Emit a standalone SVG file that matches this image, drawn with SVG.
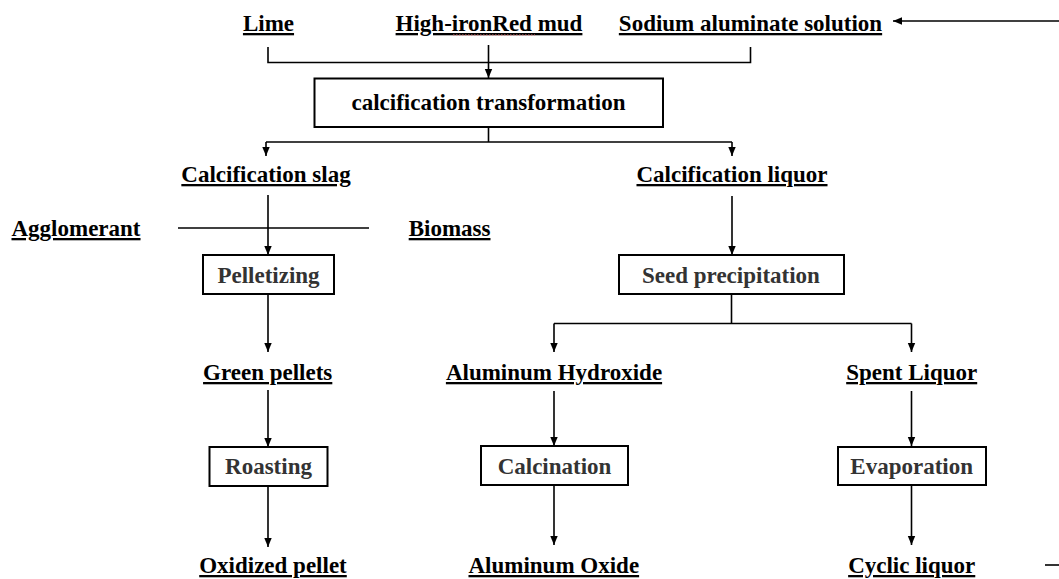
<svg xmlns="http://www.w3.org/2000/svg" width="1059" height="579" viewBox="0 0 1059 579">
  <style>
    .t { font-family: "Liberation Serif", "Times New Roman", serif; font-weight: bold; font-size: 23px; text-anchor: middle; fill: #000; }
    .u { text-decoration: underline; }
    .p { fill: #333; }
    .box { fill: #fff; stroke: #000; stroke-width: 2; }
    .ln { fill: none; stroke: #000; stroke-width: 1.6; }
    .ar { marker-end: url(#ah); }
  </style>
  <defs>
    <marker id="ah" markerUnits="userSpaceOnUse" markerWidth="10" markerHeight="10" refX="9" refY="5" orient="auto">
      <path d="M0,1.3 L9,5 L0,8.7 z" fill="#000"/>
    </marker>
  </defs>
  <rect width="1059" height="579" fill="#fff"/>

  <g id="connectors">
    <path class="ln" d="M268,47 V62.5 H750.5 V47"/>
    <path class="ln ar" d="M488.5,45 V78"/>
    <path class="ln ar" d="M1059,21 H893"/>
    <path class="ln" d="M488.5,127 V142"/>
    <path class="ln" d="M266,142 H732"/>
    <path class="ln ar" d="M266,142 V156"/>
    <path class="ln ar" d="M732,142 V156"/>
    <path class="ln ar" d="M268,195 V255"/>
    <path class="ln" d="M178,228 H369"/>
    <path class="ln ar" d="M732,196 V255"/>
    <path class="ln ar" d="M268,294 V352"/>
    <path class="ln" d="M731.5,294 V323.5"/>
    <path class="ln" d="M554,323.5 H911.5"/>
    <path class="ln ar" d="M554,323.5 V352"/>
    <path class="ln ar" d="M911.5,323.5 V352"/>
    <path class="ln ar" d="M268,390 V447"/>
    <path class="ln ar" d="M268,486 V547"/>
    <path class="ln ar" d="M554,391 V446"/>
    <path class="ln ar" d="M554,485 V545"/>
    <path class="ln ar" d="M911.5,391 V446"/>
    <path class="ln ar" d="M911.5,485 V545"/>
    <path class="ln" d="M1045,565 H1059"/>
  </g>

  <g id="lime"><text class="t u" x="268.5" y="31">Lime</text></g>
  <g id="red-mud">
    <text class="t u" x="489" y="31">High-ironRed mud</text>
    <path d="M453,35 H535" fill="none" stroke="#e07070" stroke-width="1" stroke-dasharray="1.5 1.5"/>
  </g>
  <g id="sodium-aluminate"><text class="t u" x="750.5" y="31">Sodium aluminate solution</text></g>

  <g id="calcification-transformation">
    <rect class="box" x="314.5" y="78.5" width="348.5" height="48.5"/>
    <text class="t" x="488.5" y="110">calcification transformation</text>
  </g>

  <g id="calcification-slag"><text class="t u" x="266" y="182">Calcification slag</text></g>
  <g id="calcification-liquor"><text class="t u" x="732" y="182">Calcification liquor</text></g>
  <g id="agglomerant"><text class="t u" x="76" y="236">Agglomerant</text></g>
  <g id="biomass"><text class="t u" x="449.6" y="236">Biomass</text></g>

  <g id="pelletizing">
    <rect class="box" x="203" y="255" width="131" height="39"/>
    <text class="t p" x="268.5" y="283">Pelletizing</text>
  </g>
  <g id="seed-precipitation">
    <rect class="box" x="619" y="255" width="225" height="39"/>
    <text class="t p" x="731" y="283">Seed precipitation</text>
  </g>

  <g id="green-pellets"><text class="t u" x="267.7" y="380">Green pellets</text></g>
  <g id="aluminum-hydroxide"><text class="t u" x="554" y="380">Aluminum Hydroxide</text></g>
  <g id="spent-liquor"><text class="t u" x="911.7" y="380">Spent Liquor</text></g>

  <g id="roasting">
    <rect class="box" x="209.5" y="447" width="118" height="39"/>
    <text class="t p" x="268.5" y="474">Roasting</text>
  </g>
  <g id="calcination">
    <rect class="box" x="481" y="446" width="147" height="39"/>
    <text class="t p" x="554.5" y="474">Calcination</text>
  </g>
  <g id="evaporation">
    <rect class="box" x="838" y="447" width="148" height="38"/>
    <text class="t p" x="911.7" y="474">Evaporation</text>
  </g>

  <g id="oxidized-pellet"><text class="t u" x="273" y="573">Oxidized pellet</text></g>
  <g id="aluminum-oxide"><text class="t u" x="553.8" y="573">Aluminum Oxide</text></g>
  <g id="cyclic-liquor"><text class="t u" x="911.7" y="573">Cyclic liquor</text></g>
</svg>
